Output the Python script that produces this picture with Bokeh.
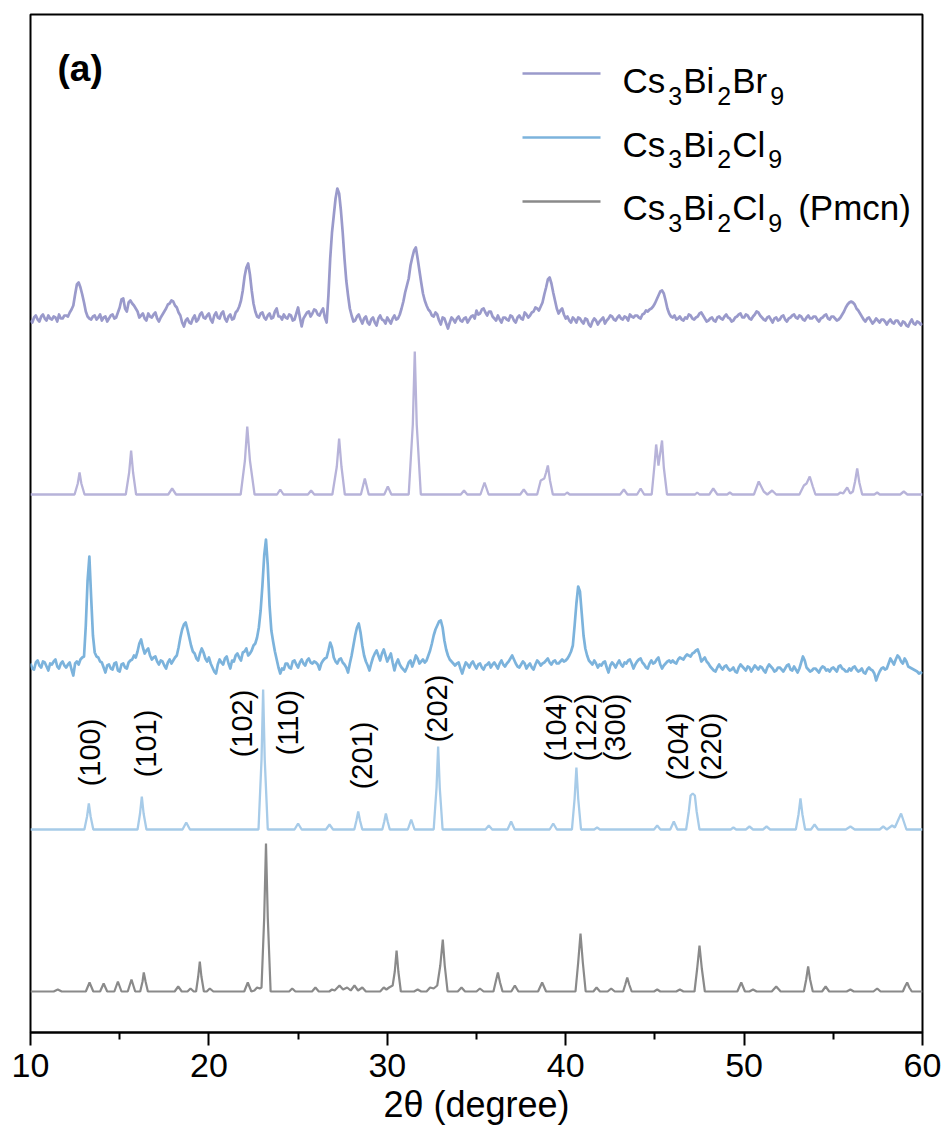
import numpy as np
from bokeh.plotting import figure
from bokeh.models import Range1d, FixedTicker, Label
from bokeh.embed import file_html
from bokeh.resources import INLINE

# ---------------- data ----------------
# measured patterns sampled every 0.1 deg from 10 to 60 (intensity above own baseline, a.u.)
# one row per degree: x.0, x.1, ..., x.9
two_theta_exp = np.round(10.0 + 0.1 * np.arange(501), 1)

br_exp = [
    0, -2, 3, 5, 1, -1, 4, 6, 2, 0,            # 10
    5, 2, 1, 4, 3, -1, 6, 2, 2, 5,             # 11
    5, 4, 8, 11, 15, 26, 36, 38, 33, 26,       # 12
    18, 9, 4, 2, 1, 4, 5, 1, 3, 6,             # 13
    0, 3, 4, -1, 2, 5, 6, 2, 3, 8,             # 14
    13, 21, 22, 12, 9, 18, 20, 17, 15, 12,     # 15
    9, 3, 5, 7, 2, 0, 7, 4, 3, 6,              # 16
    8, 2, -1, 3, 6, 9, 12, 16, 17, 20,         # 17
    19, 15, 13, 8, 5, -2, -6, 0, 2, -2,        # 18
    -3, 2, 5, -1, 1, 6, 8, 3, 2, 5,            # 19
    7, 1, -2, 5, 8, 3, 2, 7, 9, 2,             # 20
    -1, 4, 6, 1, 2, 8, 10, 14, 20, 30,         # 21
    44, 53, 57, 46, 30, 17, 9, 4, 3, 7,        # 22
    8, 3, 1, 5, 7, 2, 3, 9, 12, 4,             # 23
    4, 1, 6, 3, 2, 6, 5, 0, 1, 7,              # 24
    13, 3, -6, 2, 5, 8, 9, 4, 7, 11,           # 25
    10, 6, 5, 9, 12, 3, -2, 25, 62, 88,        # 26
    105, 122, 132, 127, 110, 88, 62, 40, 25, 12,  # 27
    5, -1, 0, 4, 6, 1, -3, 2, 4, -2,           # 28
    -4, 1, 3, -2, -5, 2, 5, 1, 0, -3,          # 29
    3, 0, -3, 2, 5, 1, 2, 6, 12, 19,           # 30
    28, 35, 42, 55, 63, 70, 73, 62, 50, 38,    # 31
    27, 20, 15, 11, 9, 5, 4, 8, 6, 0,          # 32
    -4, 3, 2, -3, -8, -2, 3, 1, -2, 2,         # 33
    4, 0, -1, 2, 3, -2, 1, 4, 5, 2,            # 34
    10, 6, 7, 11, 12, 8, 5, 9, 9, 4,           # 35
    2, 0, 5, 1, -2, 3, 3, 1, 0, 5,             # 36
    4, 0, -2, 3, 5, 2, 1, 8, 6, 3,             # 37
    5, 8, 9, 13, 12, 10, 14, 18, 26, 33,       # 38
    41, 43, 37, 28, 20, 12, 7, 10, 12, 6,      # 39
    2, 4, 0, -2, 3, 1, -2, 3, 2, -1,           # 40
    -3, 2, 1, -4, -6, -1, 2, 0, -4, -1,        # 41
    1, 3, -3, 0, 2, 5, 4, 1, 0, 3,             # 42
    5, 2, 1, 4, 3, 0, 6, 4, 3, 5,              # 43
    5, 3, 2, 6, 7, 10, 9, 11, 12, 14,          # 44
    17, 21, 25, 29, 30, 27, 20, 12, 7, 4,      # 45
    3, 5, 1, 2, 4, 1, 0, 3, 2, 6,              # 46
    5, 2, 1, 3, 4, 7, 8, 5, 2, -1,             # 47
    0, 2, 3, 0, -1, 3, 4, 2, 1, 4,             # 48
    6, 3, 2, -1, 0, 3, 4, 6, 7, 3,             # 49
    3, 6, 5, 2, 1, 4, 6, 9, 8, 5,              # 50
    3, 1, 0, 3, 4, 1, -2, 2, 3, 0,             # 51
    1, 4, 5, 1, -1, 2, 3, 5, 6, 3,             # 52
    2, 5, 4, 1, 0, 3, 5, 2, 2, 4,              # 53
    4, 1, -1, 2, 3, 5, 6, 2, 1, 4,             # 54
    4, 2, 0, 1, 3, 6, 9, 13, 16, 18,           # 55
    19, 18, 16, 12, 10, 7, 4, 1, -1, 2,        # 56
    3, 0, -3, -1, 2, 0, -2, 1, 1, -1,          # 57
    -4, -1, 1, -2, -3, 0, 0, -3, -5, -1,       # 58
    -2, -5, -6, -2, 1, -3, -4, -1, -2, -4,     # 59
    -3,                                        # 60
]

cl_exp = [
    2, -3, -4, 3, 5, 0, -2, 4, 3, -1,          # 10
    -5, 2, 1, 4, 6, -1, -3, 2, 4, 0,           # 11
    -2, 1, 3, -4, -10, 2, 4, 1, 6, 8,          # 12
    9, 40, 85, 109, 68, 30, 13, 9, 8, 4,       # 13
    3, -2, -7, 0, 1, -3, -4, 2, 3, -5,         # 14
    -6, 1, 2, -2, -3, 3, 5, 6, 10, 8,          # 15
    14, 22, 26, 18, 12, 15, 17, 10, 6, 8,      # 16
    9, 4, 1, 5, 4, 0, -3, 3, 6, 2,             # 17
    5, 8, 10, 18, 28, 36, 41, 43, 36, 28,      # 18
    20, 14, 12, 7, 5, 12, 17, 13, 7, 4,        # 19
    8, 2, -2, -6, -8, 1, 6, 3, 1, 7,           # 20
    9, 2, -3, 5, 4, 10, 12, 8, 5, 13,          # 21
    14, 17, 10, 12, 15, 20, 22, 28, 38, 55,    # 22
    80, 110, 126, 100, 60, 35, 24, 14, 6, -2,  # 23
    -8, -3, -4, 2, 2, -2, -3, 4, 5, 1,         # 24
    -2, 3, 6, 2, 0, 5, 7, 3, 2, 4,             # 25
    3, 1, -4, 2, 5, 7, 8, 15, 23, 18,          # 26
    8, 4, 2, 6, 7, 3, 1, -2, -7, 2,            # 27
    10, 20, 30, 38, 42, 33, 20, 10, 4, 0,      # 28
    -5, 2, 8, 12, 15, 10, 5, 12, 16, 10,       # 29
    4, 8, 12, 3, -5, 2, 6, 1, -2, -4,          # 30
    -6, -2, 3, 5, -1, 4, 10, 7, 2, 4,          # 31
    6, 3, 5, 10, 15, 22, 30, 36, 40, 44,       # 32
    45, 38, 25, 16, 10, 6, 4, 2, 0, 2,         # 33
    3, -3, -8, -2, 3, 1, -2, 2, 4, 0,          # 34
    -3, 1, 2, -2, -4, 0, 1, 3, -2, 1,          # 35
    3, 0, -3, 2, 5, 1, -1, 2, 4, 7,            # 36
    10, 6, 2, -1, -2, 1, 4, 2, -3, 0,          # 37
    2, -2, -4, 1, 5, 3, 0, 2, 3, 5,            # 38
    7, 3, 1, 4, 5, 2, 2, 4, 6, 4,              # 39
    5, 7, 10, 14, 20, 40, 62, 79, 74, 52,      # 40
    30, 17, 10, 5, 3, 1, 5, 2, -2, 1,          # 41
    0, 3, 4, -2, -7, 0, 3, 1, -2, 2,           # 42
    5, 1, -1, 3, 2, 5, 6, 2, -3, 1,            # 43
    4, 6, 7, 3, 1, -2, -3, 2, 5, 2,            # 44
    3, 6, 8, 1, -3, 0, 2, 4, 5, 3,             # 45
    5, 3, 2, 6, 8, 7, 6, 9, 11, 10,            # 46
    9, 12, 13, 15, 16, 11, 4, 6, 8, 4,         # 47
    2, -1, -3, -5, -6, -2, 1, -2, -4, -1,      # 48
    0, -3, -5, -4, -2, -6, -7, -2, 1, -1,      # 49
    -3, -5, -1, -2, -6, -3, 0, -2, -4, -1,     # 50
    -2, -5, -7, -2, 1, -1, -3, -6, -5, -2,     # 51
    -2, -4, -6, -3, 0, 1, -4, -5, -1, -4,      # 52
    -7, -3, 3, 9, 5, -2, -4, -6, -5, -3,       # 53
    -3, -5, -7, -3, -1, -2, -5, -4, -6, -3,    # 54
    -2, -4, -6, -1, 0, -3, -4, -6, -6, -3,     # 55
    -5, -2, -1, -4, -6, -5, -3, -7, -8, -4,    # 56
    -2, -4, -5, -8, -15, -10, -6, -3, -2, -4,  # 57
    -3, 2, 7, 4, 1, 6, 10, 8, 4, 2,            # 58
    7, 4, -1, -2, -3, -4, -5, -6, -8, -7,      # 59
    -8,                                        # 60
]

# simulated patterns as (2theta, intensity) vertices
br_sim = [
    (10.0, 0), (12.47, 0), (12.65, 11), (12.75, 22), (12.85, 11), (13.03, 0),
    (15.34, 0), (15.53, 22), (15.64, 44), (15.75, 22), (15.92, 0),
    (17.72, 0), (17.94, 6), (18.16, 0),
    (21.78, 0), (22.02, 34), (22.15, 68), (22.3, 34), (22.56, 0),
    (23.82, 0), (24.0, 5), (24.18, 0),
    (25.55, 0), (25.73, 4), (25.91, 0),
    (26.92, 0), (27.17, 28), (27.3, 56), (27.43, 28), (27.62, 0),
    (28.52, 0), (28.74, 16), (28.96, 0),
    (29.83, 0), (30.03, 8), (30.23, 0),
    (31.2, 0), (31.43, 70), (31.54, 143), (31.65, 70), (31.88, 0),
    (34.12, 0), (34.3, 4), (34.48, 0),
    (35.22, 0), (35.45, 12), (35.68, 0),
    (37.45, 0), (37.65, 5), (37.85, 0),
    (38.4, 0), (38.6, 14), (38.8, 16), (38.9, 22), (39.0, 29), (39.12, 14), (39.28, 0),
    (39.95, 0), (40.08, 2), (40.22, 0),
    (43.05, 0), (43.26, 5), (43.46, 0),
    (44.0, 0), (44.2, 6), (44.4, 0),
    (44.82, 0), (44.98, 30), (45.07, 50), (45.2, 29), (45.4, 54), (45.5, 27), (45.68, 0),
    (47.25, 0), (47.37, 2), (47.5, 0),
    (48.05, 0), (48.27, 6), (48.5, 0),
    (49.05, 0), (49.2, 2), (49.35, 0),
    (50.55, 0), (50.82, 13), (51.1, 3), (51.3, 0), (51.57, 4), (51.8, 0),
    (53.1, 0), (53.35, 9), (53.5, 11), (53.68, 18), (53.85, 8), (54.0, 0),
    (55.25, 0), (55.4, 2), (55.55, 1), (55.78, 7), (55.95, 1), (56.1, 3),
    (56.22, 13), (56.34, 26), (56.46, 12), (56.62, 0),
    (57.3, 0), (57.46, 2), (57.6, 0),
    (58.75, 0), (58.95, 3), (59.15, 0),
    (60.0, 0),
]

cl_sim = [
    (10.0, 0), (13.02, 0), (13.17, 13), (13.27, 26), (13.37, 13), (13.52, 0),
    (16.0, 0), (16.14, 16), (16.24, 33), (16.34, 16), (16.5, 0),
    (18.52, 0), (18.73, 7), (18.94, 0),
    (22.78, 0), (22.95, 70), (23.04, 140), (23.13, 70), (23.3, 0),
    (24.8, 0), (25.0, 6), (25.2, 0),
    (26.56, 0), (26.76, 5), (26.96, 0),
    (28.15, 0), (28.27, 9), (28.37, 18), (28.47, 9), (28.6, 0),
    (29.72, 0), (29.83, 8), (29.92, 16), (30.02, 8), (30.14, 0),
    (31.15, 0), (31.34, 10), (31.53, 0),
    (32.6, 0), (32.76, 42), (32.85, 83), (32.94, 42), (33.1, 0),
    (35.5, 0), (35.69, 4), (35.88, 0),
    (36.74, 0), (36.94, 8), (37.14, 0),
    (39.1, 0), (39.3, 6), (39.5, 0),
    (40.35, 0), (40.5, 31), (40.6, 62), (40.7, 31), (40.86, 0),
    (41.6, 0), (41.76, 2), (41.92, 0),
    (44.95, 0), (45.13, 4), (45.31, 0),
    (45.86, 0), (46.06, 8), (46.26, 0),
    (46.75, 0), (46.9, 18), (47.0, 34), (47.12, 36), (47.24, 34), (47.34, 18), (47.5, 0),
    (49.25, 0), (49.4, 2), (49.55, 0),
    (50.1, 0), (50.3, 3), (50.5, 0),
    (51.06, 0), (51.26, 3), (51.46, 0),
    (52.9, 0), (53.05, 15), (53.16, 31), (53.27, 15), (53.42, 0),
    (53.75, 0), (53.95, 5), (54.15, 0),
    (55.7, 0), (55.96, 3), (56.2, 0),
    (57.6, 0), (57.8, 3), (58.0, 0), (58.3, 4), (58.45, 2), (58.6, 8),
    (58.8, 16), (58.95, 8), (59.1, 0),
    (60.0, 0),
]

pmcn_sim = [
    (10.0, 0), (11.3, 0), (11.53, 2), (11.75, 0),
    (13.1, 0), (13.31, 9), (13.52, 0),
    (13.9, 0), (14.1, 8), (14.3, 0),
    (14.7, 0), (14.9, 10), (15.1, 0),
    (15.45, 0), (15.66, 12), (15.87, 0),
    (16.15, 0), (16.28, 10), (16.35, 19), (16.45, 10), (16.58, 0),
    (18.08, 0), (18.28, 5), (18.48, 0),
    (18.8, 0), (18.97, 3), (19.15, 0),
    (19.28, 0), (19.4, 15), (19.49, 30), (19.58, 15), (19.72, 0),
    (19.88, 0), (20.05, 3), (20.25, 0),
    (21.98, 0), (22.18, 9), (22.38, 0),
    (22.55, 1), (22.7, 4), (22.85, 3), (22.95, 4),
    (23.1, 74), (23.2, 148), (23.3, 74), (23.46, 0),
    (24.5, 0), (24.67, 3), (24.85, 0),
    (25.78, 0), (25.97, 4), (26.16, 0),
    (26.75, 0), (26.9, 2), (27.05, 1), (27.32, 6), (27.52, 2), (27.75, 4),
    (27.95, 1), (28.16, 6), (28.36, 1), (28.6, 4), (28.8, 0),
    (29.6, 0), (29.8, 4), (29.95, 2), (30.1, 4), (30.3, 6),
    (30.42, 20), (30.52, 41), (30.62, 20), (30.76, 0),
    (31.5, 0), (31.7, 2), (31.9, 0),
    (32.2, 0), (32.4, 4), (32.6, 3), (32.8, 6), (32.97, 26), (33.11, 52), (33.22, 26), (33.38, 0),
    (33.95, 0), (34.16, 4), (34.36, 0),
    (35.0, 0), (35.19, 3), (35.4, 0),
    (35.95, 0), (36.08, 10), (36.2, 19), (36.32, 9), (36.46, 0),
    (36.95, 0), (37.15, 6), (37.35, 0),
    (38.45, 0), (38.68, 9), (38.9, 0),
    (40.55, 0), (40.7, 29), (40.83, 58), (40.96, 29), (41.12, 0),
    (41.55, 0), (41.73, 4), (41.92, 0),
    (42.35, 0), (42.55, 3), (42.75, 0),
    (43.22, 0), (43.34, 7), (43.45, 14), (43.56, 7), (43.7, 0),
    (44.95, 0), (45.13, 2), (45.3, 0),
    (46.2, 0), (46.4, 2), (46.6, 0),
    (47.22, 0), (47.37, 23), (47.5, 46), (47.63, 23), (47.8, 0),
    (49.62, 0), (49.84, 9), (50.05, 0),
    (50.3, 0), (50.5, 2), (50.7, 0),
    (51.55, 0), (51.8, 5), (52.05, 0),
    (53.35, 0), (53.48, 12), (53.59, 25), (53.7, 12), (53.85, 0),
    (54.37, 0), (54.57, 5), (54.77, 0),
    (55.75, 0), (55.96, 2), (56.15, 0),
    (57.25, 0), (57.46, 3), (57.65, 0),
    (58.9, 0), (59.02, 5), (59.14, 9), (59.26, 4), (59.4, 0),
    (60.0, 0),
]

# vertical stacking offsets of each pattern (a.u.)
offset_br_exp = 712
offset_br_sim = 538
offset_cl_exp = 367
offset_cl_sim = 203
offset_pmcn = 41

# legend entries: (text piece, is_subscript)
legend_rows = [
    [("Cs", False), ("3", True), ("Bi", False), ("2", True), ("Br", False), ("9", True)],
    [("Cs", False), ("3", True), ("Bi", False), ("2", True), ("Cl", False), ("9", True)],
    [("Cs", False), ("3", True), ("Bi", False), ("2", True), ("Cl", False), ("9", True),
     ("(Pmcn)", False)],
]

hkl_labels = ["(100)", "(101)", "(102)", "(110)", "(201)", "(202)",
              "(104)", "(122)", "(300)", "(204)", "(220)"]
hkl_two_theta = [13.31, 16.5, 21.83, 24.46, 28.6, 32.81, 39.48, 41.11, 42.79, 46.27, 48.17]
hkl_y = [280, 289, 309, 310, 277, 324, 305, 305, 305, 286, 286]

x_ticks = [10, 20, 30, 40, 50, 60]
x_minor_ticks = [15, 25, 35, 45, 55]

assert len(br_exp) == len(two_theta_exp) == len(cl_exp)

# ---------------- figure ----------------
FONT = "Liberation Sans"
C_BR_EXP, C_BR_SIM = "#9a9acb", "#b7b3d9"
C_CL_EXP, C_CL_SIM = "#7cb3dc", "#a7cbe8"
C_PMCN = "#8a8a8a"

FRAME_L, FRAME_T, FRAME_W, FRAME_H = 30, 14, 892, 1018
X0, X1, Y0, Y1 = 10.0, 60.0, 0.0, 1018.0

def dx(px):   # page pixel -> data x (for decorations only)
    return X0 + (px - FRAME_L) * (X1 - X0) / FRAME_W

def dy(py):   # page pixel -> data y (for decorations only)
    return Y0 + (FRAME_T + FRAME_H - py) * (Y1 - Y0) / FRAME_H

p = figure(width=947, height=1137, output_backend="svg", toolbar_location=None,
           x_range=Range1d(X0, X1), y_range=Range1d(Y0, Y1),
           min_border_left=FRAME_L, min_border_right=947 - FRAME_L - FRAME_W,
           min_border_top=FRAME_T, min_border_bottom=1137 - FRAME_T - FRAME_H)
p.grid.visible = False
p.yaxis.visible = False
p.outline_line_color = "black"
p.outline_line_width = 2
p.background_fill_color = "white"
p.border_fill_color = "white"

ax = p.xaxis[0]
ax.ticker = FixedTicker(ticks=x_ticks, minor_ticks=x_minor_ticks)
ax.axis_line_color = "black"
ax.axis_line_width = 2
ax.major_tick_line_width = 2
ax.minor_tick_line_width = 2
ax.major_tick_in = 0
ax.major_tick_out = 13
ax.minor_tick_in = 0
ax.minor_tick_out = 7
ax.major_label_text_font = FONT
ax.major_label_text_font_size = "34px"
ax.major_label_text_color = "black"
ax.major_label_standoff = 8
ax.axis_label = "2θ (degree)"
ax.axis_label_text_font = FONT
ax.axis_label_text_font_size = "36px"
ax.axis_label_text_font_style = "normal"
ax.axis_label_text_color = "black"
ax.axis_label_standoff = 4

def xy(vertices, offset):
    xs = [v[0] for v in vertices]
    ys = [v[1] + offset for v in vertices]
    return xs, ys

p.line(two_theta_exp, np.array(br_exp) + offset_br_exp, line_color=C_BR_EXP, line_width=2.7,
       line_join="round")
xs, ys = xy(br_sim, offset_br_sim)
p.line(xs, ys, line_color=C_BR_SIM, line_width=2.3)
p.line(two_theta_exp, np.array(cl_exp) + offset_cl_exp, line_color=C_CL_EXP, line_width=2.7,
       line_join="round")
xs, ys = xy(cl_sim, offset_cl_sim)
p.line(xs, ys, line_color=C_CL_SIM, line_width=2.3)
xs, ys = xy(pmcn_sim, offset_pmcn)
p.line(xs, ys, line_color=C_PMCN, line_width=2.2)

# ---- legend (built by hand to get real subscripts) ----
ADV = {'C': 722, 's': 500, 'B': 667, 'i': 222, 'r': 333, 'l': 222, '3': 556, '2': 556,
       '9': 556, '(': 333, 'P': 667, 'm': 833, 'c': 500, 'n': 556, ')': 333, ' ': 278}
MAIN_FS, SUB_FS, SUB_DROP = 35, 25, 15
legend_colors = [C_BR_EXP, C_CL_EXP, C_PMCN]
sample_y = [73, 137, 201]
text_baseline_y = [80, 143.5, 207]
for row, col, ly, by in zip(legend_rows, legend_colors, sample_y, text_baseline_y):
    p.line([dx(522), dx(600)], [dy(ly), dy(ly)], line_color=col, line_width=2.6)
    x = 622.0
    for txt, sub in row:
        fs = SUB_FS if sub else MAIN_FS
        if sub:
            x += 3
        if txt.startswith("("):
            x += 15
        p.add_layout(Label(x=dx(x), y=dy(by + (SUB_DROP if sub else 0)), text=txt,
                           text_align="left", text_baseline="alphabetic",
                           text_font=FONT, text_font_size=f"{fs}px", text_color="black"))
        x += sum(ADV[c] for c in txt) * fs / 1000.0
        if sub:
            x += 1

for t, x, y in zip(hkl_labels, hkl_two_theta, hkl_y):
    p.add_layout(Label(x=x, y=y, text=t, angle=np.pi / 2, text_align="center",
                       text_baseline="middle", text_font=FONT, text_font_size="29px",
                       text_color="black"))

p.add_layout(Label(x=dx(57), y=dy(47), text="(a)", text_align="left", text_baseline="top",
                   text_font=FONT, text_font_size="37px", text_font_style="bold",
                   text_color="black"))

open("out.html", "w").write(file_html(p, INLINE))
